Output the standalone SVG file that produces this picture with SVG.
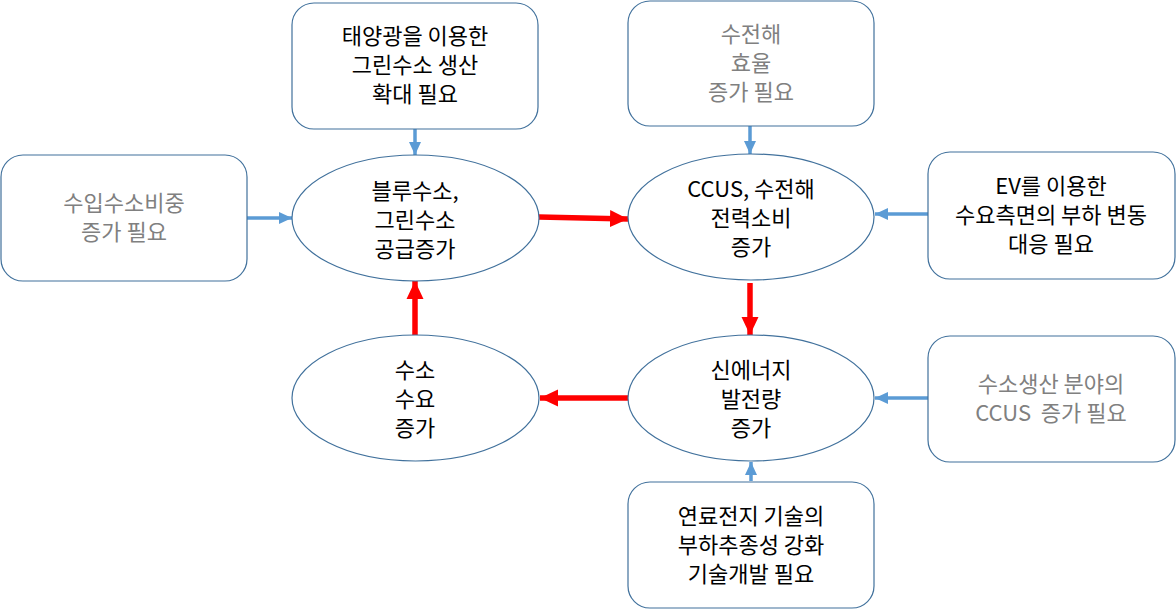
<svg xmlns="http://www.w3.org/2000/svg" width="1176" height="609" viewBox="0 0 1176 609">
<defs>
<style>
.box{fill:#fff;stroke:#41719C;stroke-width:1.2}
.ell{fill:#fff;stroke:#41719C;stroke-width:1.2}
text{font-family:"Noto Sans CJK KR","Noto Sans",sans-serif;font-size:22px;text-anchor:middle;fill:#000}
.g{fill:#808080}
.blue{stroke:#5B9BD5;stroke-width:3.5;fill:none}
.red{stroke:#FF0000;stroke-width:5.5;fill:none}
</style>
<marker id="ab" markerUnits="userSpaceOnUse" markerWidth="14" markerHeight="14" viewBox="0 0 14 14" refX="13" refY="7" orient="auto">
<path d="M0,1 L13,7 L0,13 Z" fill="#5B9BD5"/>
</marker>
<marker id="ar" markerUnits="userSpaceOnUse" markerWidth="20" markerHeight="20" viewBox="0 0 20 20" refX="18" refY="10" orient="auto">
<path d="M0,1.5 L18,10 L0,18.5 Z" fill="#FF0000"/>
</marker>
</defs>
<rect width="1176" height="609" fill="#fff"/>

<g id="connectors">
<line class="blue" x1="415" y1="129" x2="415" y2="155" marker-end="url(#ab)"/>
<line class="blue" x1="750" y1="126" x2="750" y2="154" marker-end="url(#ab)"/>
<line class="blue" x1="247" y1="218" x2="292" y2="218" marker-end="url(#ab)"/>
<line class="blue" x1="928" y1="214" x2="875" y2="214" marker-end="url(#ab)"/>
<line class="blue" x1="928" y1="398" x2="875" y2="398" marker-end="url(#ab)"/>
<line class="blue" x1="751" y1="481" x2="751" y2="462" marker-end="url(#ab)"/>
<line class="red" x1="539" y1="217" x2="628" y2="219" marker-end="url(#ar)"/>
<line class="red" x1="750" y1="283" x2="750" y2="335" marker-end="url(#ar)"/>
<line class="red" x1="628" y1="398" x2="540" y2="398" marker-end="url(#ar)"/>
<line class="red" x1="415" y1="336" x2="415" y2="281" marker-end="url(#ar)"/>
</g>

<g id="n-solar">
<rect class="box" x="292" y="3" width="246" height="126" rx="22"/>
<text x="415" y="44">태양광을 이용한</text>
<text x="415" y="73">그린수소 생산</text>
<text x="415" y="102">확대 필요</text>
</g>

<g id="n-electrolysis">
<rect class="box" x="628" y="1" width="246" height="125" rx="22"/>
<text class="g" x="751" y="42">수전해</text>
<text class="g" x="751" y="71">효율</text>
<text class="g" x="751" y="100">증가 필요</text>
</g>

<g id="n-import">
<rect class="box" x="1" y="155" width="246" height="126" rx="22"/>
<text class="g" x="124" y="211">수입수소비중</text>
<text class="g" x="124" y="240">증가 필요</text>
</g>

<g id="n-ev">
<rect class="box" x="928" y="152" width="247" height="127" rx="22"/>
<text x="1051" y="194">EV를 이용한</text>
<text x="1051" y="223">수요측면의 부하 변동</text>
<text x="1051" y="252">대응 필요</text>
</g>

<g id="n-ccus-prod">
<rect class="box" x="928" y="336" width="247" height="126" rx="22"/>
<text class="g" x="1051" y="392">수소생산 분야의</text>
<text class="g" x="1051" y="421" xml:space="preserve">CCUS  증가 필요</text>
</g>

<g id="n-fuelcell">
<rect class="box" x="628" y="482" width="246" height="126" rx="22"/>
<text x="751" y="524">연료전지 기술의</text>
<text x="751" y="553">부하추종성 강화</text>
<text x="751" y="582">기술개발 필요</text>
</g>

<g id="n-supply">
<ellipse class="ell" cx="415.5" cy="218" rx="123.5" ry="63"/>
<text x="415" y="199">블루수소,</text>
<text x="415" y="228">그린수소</text>
<text x="415" y="257">공급증가</text>
</g>

<g id="n-power">
<ellipse class="ell" cx="751" cy="217" rx="123" ry="63"/>
<text x="751" y="197">CCUS, 수전해</text>
<text x="751" y="226">전력소비</text>
<text x="751" y="255">증가</text>
</g>

<g id="n-demand">
<ellipse class="ell" cx="415.5" cy="398" rx="123.5" ry="63"/>
<text x="415" y="378">수소</text>
<text x="415" y="407">수요</text>
<text x="415" y="436">증가</text>
</g>

<g id="n-newenergy">
<ellipse class="ell" cx="751" cy="398" rx="123" ry="63"/>
<text x="751" y="378">신에너지</text>
<text x="751" y="407">발전량</text>
<text x="751" y="436">증가</text>
</g>
</svg>
